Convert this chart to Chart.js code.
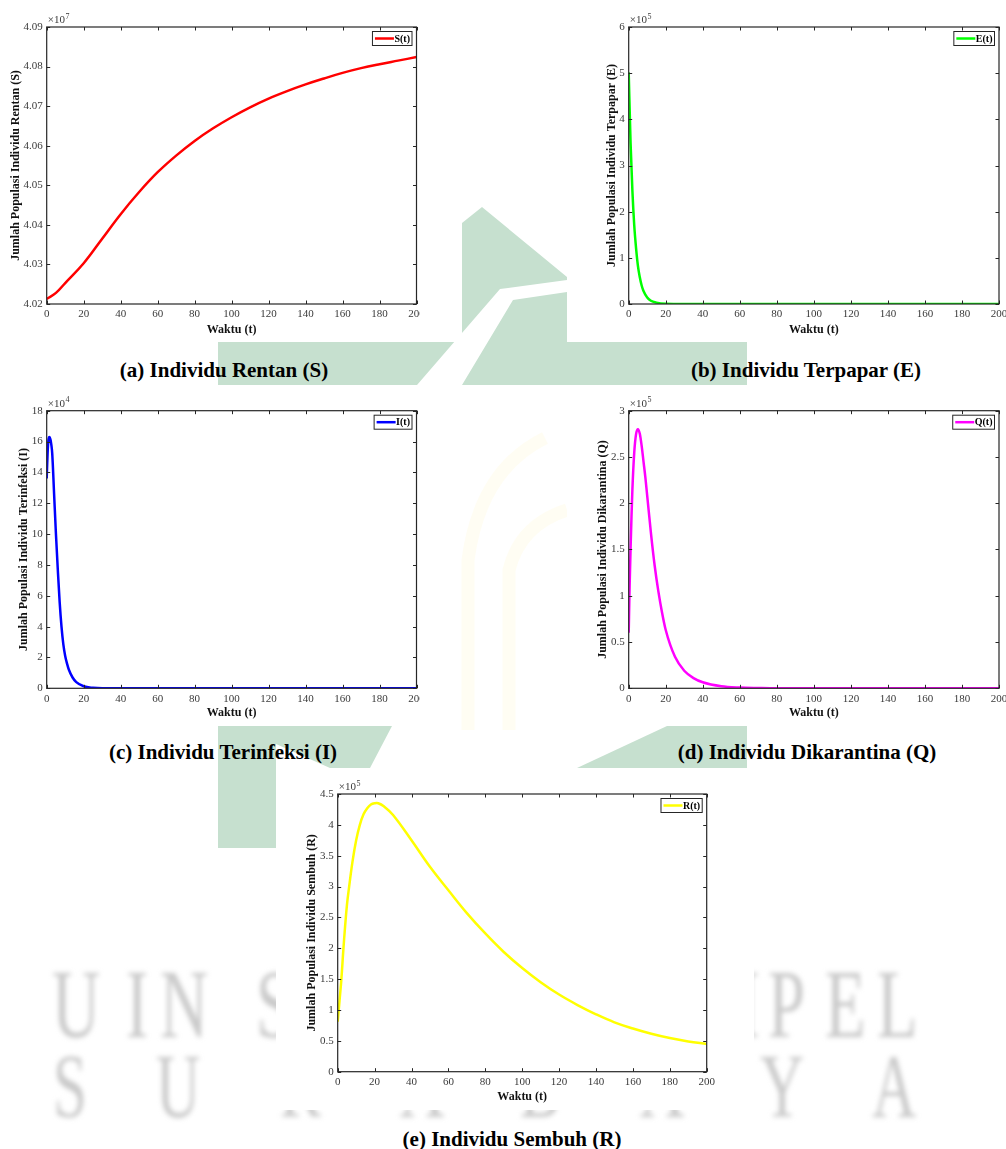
<!DOCTYPE html>
<html>
<head>
<meta charset="utf-8">
<script src="https://cdn.jsdelivr.net/npm/chart.js@4.4.0/dist/chart.umd.min.js"></script>
<style>
html, body { margin: 0; padding: 0; background: #fff; }
#page { position: relative; width: 1006px; height: 1149px; overflow: hidden; }
#wm { position: absolute; left: 0; top: 0; }
.box { position: absolute; background: #fff; overflow: hidden; }
.box canvas { position: absolute; left: 0; top: 0; }
.cap { position: absolute; width: 400px; text-align: center; font: bold 21px "Liberation Serif", serif; line-height: 24px; color: #000; white-space: nowrap; }
</style>
</head>
<body>
<div id="page">
  <svg id="wm" width="1006" height="1149">
    <defs><filter id="soft"><feGaussianBlur stdDeviation="2.4"/></filter></defs>
    <g fill="#c6e0cf">
      <polygon points="462,223 482,207 567,277 567,342 747,342 747,385 218,385 218,342 462,342"/>
      <polygon points="218,726 392,726 370,768 330,768 276,744 276,848 218,848"/>
      <polygon points="577,768 667,726 747,726 747,768"/>
    </g>
    <polygon fill="#fff" points="417,385 462,385 513,300 567,292 567,280 500,289"/>
    <g fill="none" stroke="rgba(255,240,160,0.13)" stroke-width="13">
      <path d="M468,730 L468,560 Q480,470 545,438"/>
      <path d="M509,730 L509,570 Q520,525 567,510"/>
    </g>
    <g fill="#c9c9c9" filter="url(#soft)" font-family="Liberation Serif" font-size="98">
      <text transform="translate(52,1037) scale(0.68,1)">U</text>
      <text transform="translate(126,1037) scale(0.68,1)">I</text>
      <text transform="translate(160,1037) scale(0.68,1)">N</text>
      <text transform="translate(256,1037) scale(0.68,1)">S</text>
      <text transform="translate(340,1037) scale(0.68,1)">U</text>
      <text transform="translate(430,1037) scale(0.68,1)">N</text>
      <text transform="translate(520,1037) scale(0.68,1)">A</text>
      <text transform="translate(610,1037) scale(0.68,1)">N</text>
      <text transform="translate(700,1037) scale(0.68,1)">M</text>
      <text transform="translate(768,1037) scale(0.68,1)">P</text>
      <text transform="translate(825,1037) scale(0.68,1)">E</text>
      <text transform="translate(877,1037) scale(0.68,1)">L</text>
    </g>
    <g fill="#c9c9c9" filter="url(#soft)" font-family="Liberation Serif" font-size="90">
      <text transform="translate(53,1117) scale(0.68,1)">S</text>
      <text transform="translate(156,1117) scale(0.68,1)">U</text>
      <text transform="translate(280,1117) scale(0.68,1)">R</text>
      <text transform="translate(400,1117) scale(0.68,1)">A</text>
      <text transform="translate(520,1117) scale(0.68,1)">B</text>
      <text transform="translate(640,1117) scale(0.68,1)">A</text>
      <text transform="translate(760,1117) scale(0.68,1)">Y</text>
      <text transform="translate(872,1117) scale(0.68,1)">A</text>
    </g>
  </svg>

  <div class="box" id="boxA"><canvas id="chartA"></canvas></div>
  <div class="box" id="boxB"><canvas id="chartB"></canvas></div>
  <div class="box" id="boxC"><canvas id="chartC"></canvas></div>
  <div class="box" id="boxD"><canvas id="chartD"></canvas></div>
  <div class="box" id="boxE"><canvas id="chartE"></canvas></div>

  <div class="cap" style="left:24px;top:358px;">(a) Individu Rentan (S)</div>
  <div class="cap" style="left:606px;top:358px;">(b) Individu Terpapar (E)</div>
  <div class="cap" style="left:23px;top:740px;">(c) Individu Terinfeksi (I)</div>
  <div class="cap" style="left:607px;top:740px;">(d) Individu Dikarantina (Q)</div>
  <div class="cap" style="left:312px;top:1127px;">(e) Individu Sembuh (R)</div>
</div>

<script>
// S(t), satuan 10^7
const sTime = [0, 5, 10, 20, 30, 40, 50, 60, 70, 80, 90, 100, 110, 120, 130, 140, 150, 160, 170, 180, 190, 200];
const sValues = [4.0213, 4.0228, 4.0253, 4.0303, 4.0365, 4.0427, 4.0483, 4.0533, 4.0575, 4.0612, 4.0644, 4.0672,
                 4.0697, 4.0719, 4.0738, 4.0755, 4.0770, 4.0784, 4.0796, 4.0806, 4.0815, 4.0824];

// E(t), satuan 10^5
const eTime = [0, 1, 2, 3, 4, 5, 6, 7, 8, 10, 12, 15, 20, 30, 50, 100, 150, 200];
const eValues = [5.02, 3.5, 2.45, 1.7, 1.2, 0.82, 0.58, 0.4, 0.28, 0.14, 0.07, 0.03, 0.006, 0, 0, 0, 0, 0];

// I(t), satuan 10^4
const iTime = [0, 0.5, 1, 1.5, 2, 2.5, 3, 4, 5, 6, 7, 8, 9, 10, 11, 12, 14, 16, 20, 25, 30, 50, 100, 150, 200];
const iValues = [13.6, 15.3, 16.15, 16.3, 16.15, 15.8, 15.2, 12.6, 10.0, 7.7, 5.6, 4.0, 2.85, 2.1, 1.6, 1.2,
                 0.7, 0.4, 0.13, 0.03, 0, 0, 0, 0, 0];

// Q(t), satuan 10^5
const qTime = [0, 0.5, 1, 1.5, 2, 3, 4, 5, 6, 7, 8, 9, 10, 12, 14, 16, 18, 20, 25, 30, 35, 40, 50, 60, 70, 80, 100, 150, 200];
const qValues = [0.6, 1.1, 1.5, 1.85, 2.15, 2.55, 2.75, 2.8, 2.75, 2.62, 2.45, 2.28, 2.08, 1.68, 1.33, 1.05, 0.82,
                 0.63, 0.34, 0.19, 0.11, 0.065, 0.022, 0.008, 0.003, 0, 0, 0, 0];

// R(t), satuan 10^5
const rTime = [0, 1, 2, 3, 4, 5, 6, 8, 10, 12, 14, 16, 18, 20, 22, 25, 30, 40, 50, 60, 70, 80, 90, 100,
               110, 120, 130, 140, 150, 160, 170, 180, 190, 200];
const rValues = [0.81, 1.15, 1.5, 1.95, 2.35, 2.7, 2.95, 3.4, 3.75, 4.0, 4.17, 4.27, 4.33, 4.35, 4.35, 4.3, 4.16,
                 3.75, 3.32, 2.94, 2.57, 2.24, 1.94, 1.68, 1.45, 1.25, 1.08, 0.93, 0.8, 0.7, 0.615, 0.545, 0.49, 0.45];

const xTicksMax = 200;
const xTickStep = 20;

Chart.defaults.animation = false;
Chart.defaults.font.family = '"Liberation Serif", serif';

const frame = {
  id: 'frame',
  afterDraw(chart, args, opts) {
    const {ctx, chartArea: a, scales: {x, y}} = chart;
    ctx.save();
    ctx.strokeStyle = '#262626';
    ctx.lineWidth = 1;
    ctx.beginPath();
    x.ticks.forEach(t => {
      const px = Math.round(x.getPixelForValue(t.value)) + 0.5;
      ctx.moveTo(px, a.bottom); ctx.lineTo(px, a.bottom - 3.5);
      ctx.moveTo(px, a.top); ctx.lineTo(px, a.top + 3.5);
    });
    y.ticks.forEach(t => {
      const py = Math.round(y.getPixelForValue(t.value)) + 0.5;
      ctx.moveTo(a.left, py); ctx.lineTo(a.left + 3.5, py);
      ctx.moveTo(a.right, py); ctx.lineTo(a.right - 3.5, py);
    });
    ctx.stroke();
    ctx.lineWidth = 1.2;
    ctx.strokeRect(a.left, a.top, a.right - a.left, a.bottom - a.top);

    // label eksponen
    ctx.fillStyle = '#3a3a3a';
    ctx.textBaseline = 'alphabetic';
    ctx.textAlign = 'left';
    ctx.font = '11px "Liberation Serif"';
    const ex = a.left + 1, ey = a.top - 4;
    ctx.fillText('\u00d710', ex, ey);
    const w = ctx.measureText('\u00d710').width;
    ctx.font = '8px "Liberation Serif"';
    ctx.fillText(opts.exp, ex + w + 0.5, ey - 4.5);

    // legenda
    const ds = chart.data.datasets[0];
    ctx.font = 'bold 10px "Liberation Serif"';
    const tw = ctx.measureText(ds.label).width;
    const bw = 24 + tw, bh = 14;
    const bx = a.right - 5 - bw, by = a.top + 4;
    ctx.fillStyle = '#fff';
    ctx.fillRect(bx, by, bw, bh);
    ctx.strokeStyle = '#262626';
    ctx.lineWidth = 1;
    ctx.strokeRect(bx + 0.5, by + 0.5, bw, bh);
    ctx.strokeStyle = ds.borderColor;
    ctx.lineWidth = 2.5;
    ctx.beginPath();
    ctx.moveTo(bx + 3, by + bh / 2 + 0.5);
    ctx.lineTo(bx + 22, by + bh / 2 + 0.5);
    ctx.stroke();
    ctx.fillStyle = '#000';
    ctx.textBaseline = 'middle';
    ctx.fillText(ds.label, bx + 22.5, by + bh / 2 + 1);
    ctx.restore();
  }
};

function pts(t, v) {
  return t.map((tv, i) => ({x: tv, y: v[i]}));
}

function makeChart(s) {
  const [bl, bt, bw, bh] = s.box;
  const [pl, pt, pr, pb] = s.plot;
  const box = document.getElementById(s.boxId);
  box.style.left = bl + 'px'; box.style.top = bt + 'px';
  box.style.width = bw + 'px'; box.style.height = bh + 'px';
  const canvas = document.getElementById(s.canvasId);
  canvas.width = s.cw; canvas.height = bh;
  canvas.style.width = s.cw + 'px'; canvas.style.height = bh + 'px';

  const yW = pl - bl;
  const padTop = pt - bt;
  const padRight = s.cw - (pr - bl);
  const xH = bt + bh - pb;
  const lh = 12 * 1.2;
  const yTitlePad = s.yTitleX - bl - lh / 2;
  const xTitlePad = bt + bh - s.xTitleY - lh / 2;

  return new Chart(canvas, {
    type: 'line',
    data: {
      datasets: [{
        label: s.label,
        data: pts(s.t, s.v),
        borderColor: s.color,
        backgroundColor: s.color,
        borderWidth: 2.5,
        pointRadius: 0,
        cubicInterpolationMode: s.smooth ? 'default' : 'monotone',
        tension: 0.4,
        fill: false
      }]
    },
    options: {
      responsive: false,
      maintainAspectRatio: false,
      devicePixelRatio: 1,
      layout: {padding: {left: 0, top: padTop, right: padRight, bottom: 0}},
      plugins: {legend: {display: false}, tooltip: {enabled: false}, frame: {exp: s.exp}},
      scales: {
        x: {
          type: 'linear', min: 0, max: xTicksMax,
          grid: {display: false, drawTicks: false},
          border: {display: false},
          ticks: {stepSize: xTickStep, autoSkip: false, maxRotation: 0, padding: 4,
                  color: '#3a3a3a', font: {size: 11}},
          title: {display: true, text: 'Waktu (t)', color: '#111',
                  font: {size: 12, weight: 'bold'}, padding: {top: 0, bottom: xTitlePad}},
          afterFit: sc => { sc.height = xH; }
        },
        y: {
          type: 'linear', min: s.yMin, max: s.yMax,
          grid: {display: false, drawTicks: false},
          border: {display: false},
          ticks: {stepSize: s.yStep, autoSkip: false, padding: 4, color: '#3a3a3a', font: {size: 11},
                  callback: v => s.dec ? v.toFixed(s.dec) : String(+v.toFixed(2))},
          title: {display: true, text: s.yTitle, color: '#111',
                  font: {size: 12, weight: 'bold'}, padding: {top: yTitlePad, bottom: 0}},
          afterFit: sc => { sc.width = yW; }
        }
      }
    },
    plugins: [frame]
  });
}

makeChart({boxId: 'boxA', canvasId: 'chartA', box: [0, 0, 420, 342], cw: 440,
  plot: [46.7, 27, 416.5, 304], yTitleX: 16, xTitleY: 330,
  t: sTime, v: sValues, label: 'S(t)', color: '#ff0000', smooth: true,
  yMin: 4.02, yMax: 4.09, yStep: 0.01, dec: 2, exp: '7',
  yTitle: 'Jumlah Populasi Individu Rentan (S)'});

makeChart({boxId: 'boxB', canvasId: 'chartB', box: [567, 0, 439, 342], cw: 460,
  plot: [628.7, 27, 999, 304], yTitleX: 611.7, xTitleY: 330,
  t: eTime, v: eValues, label: 'E(t)', color: '#00ff00',
  yMin: 0, yMax: 6, yStep: 1, dec: 0, exp: '5',
  yTitle: 'Jumlah Populasi Individu Terpapar (E)'});

makeChart({boxId: 'boxC', canvasId: 'chartC', box: [0, 385, 420, 341], cw: 440,
  plot: [46.7, 410.7, 416.5, 688.3], yTitleX: 24, xTitleY: 713,
  t: iTime, v: iValues, label: 'I(t)', color: '#0000ff',
  yMin: 0, yMax: 18, yStep: 2, dec: 0, exp: '4',
  yTitle: 'Jumlah Populasi Individu Terinfeksi (I)'});

makeChart({boxId: 'boxD', canvasId: 'chartD', box: [567, 385, 439, 341], cw: 460,
  plot: [628.7, 410.7, 999, 688.3], yTitleX: 603, xTitleY: 713,
  t: qTime, v: qValues, label: 'Q(t)', color: '#ff00ff',
  yMin: 0, yMax: 3, yStep: 0.5, dec: 0, exp: '5',
  yTitle: 'Jumlah Populasi Individu Dikarantina (Q)'});

makeChart({boxId: 'boxE', canvasId: 'chartE', box: [276, 770, 478, 340], cw: 478,
  plot: [337.7, 794, 706.7, 1071.7], yTitleX: 311.7, xTitleY: 1097,
  t: rTime, v: rValues, label: 'R(t)', color: '#ffff00', smooth: true,
  yMin: 0, yMax: 4.5, yStep: 0.5, dec: 0, exp: '5',
  yTitle: 'Jumlah Populasi Individu Sembuh (R)'});
</script>
</body>
</html>
